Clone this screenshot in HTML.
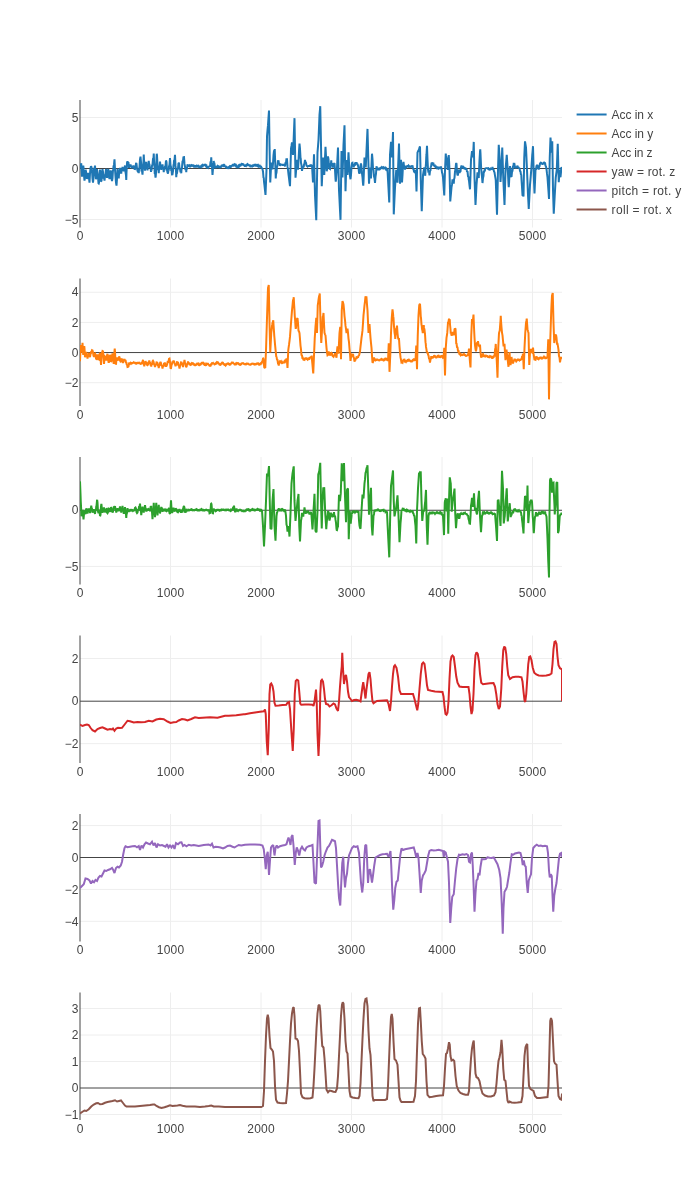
<!DOCTYPE html>
<html><head><meta charset="utf-8"><title>plot</title>
<style>
html,body{margin:0;padding:0;background:#fff;}
svg{display:block;will-change:transform;}
text{font-family:"Liberation Sans",sans-serif;font-size:12px;fill:#444;}
.g{stroke:#eee;stroke-width:1;fill:none;}
.z{stroke:#444;stroke-width:1;fill:none;}
.l{fill:none;stroke-width:2;stroke-miterlimit:2;}
</style></head><body>
<svg width="700" height="1200" viewBox="0 0 700 1200">
<rect width="700" height="1200" fill="#fff"/>

<g id="sp1">
<path class="g" d="M170.50,100.0V227.5"/>
<path class="g" d="M261.00,100.0V227.5"/>
<path class="g" d="M351.50,100.0V227.5"/>
<path class="g" d="M442.00,100.0V227.5"/>
<path class="g" d="M532.50,100.0V227.5"/>
<path class="g" d="M80.0,117.50H562.0"/>
<path class="g" d="M80.0,219.50H562.0"/>
<path class="z" d="M80.0,100.0V227.5"/>
<path class="z" d="M80.0,168.50H562.0"/>
<clipPath id="c1"><rect x="80.0" y="100.0" width="482.0" height="127.5"/></clipPath>
<g clip-path="url(#c1)"><path class="l" stroke="#1f77b4" d="M80.00,168.31L80.50,165.38L81.00,165.66L81.25,163.17L81.50,169.45L82.00,176.58L82.50,173.06L83.00,166.42L83.25,165.54L83.50,167.25L84.00,175.33L84.50,180.66L85.00,177.72L85.50,170.82L85.75,170.63L86.00,171.26L86.50,177.20L87.00,178.66L87.50,177.95L88.00,172.87L88.50,177.80L89.00,178.22L89.50,182.74L90.00,173.54L90.50,168.16L91.00,166.24L91.50,167.10L92.00,170.64L92.50,178.62L93.00,182.58L93.50,178.11L94.00,169.07L94.50,169.25L95.00,165.68L95.50,173.69L96.00,179.26L96.50,176.29L97.00,169.01L97.50,174.93L98.00,176.96L98.50,183.20L98.75,183.43L99.00,182.52L99.50,173.66L100.00,169.52L100.50,173.10L101.00,180.84L101.25,181.01L101.50,180.83L102.00,172.68L102.50,169.06L103.00,171.89L103.50,178.44L104.00,177.44L104.50,180.64L105.00,175.73L105.50,173.81L106.00,168.93L106.50,175.53L107.00,177.78L107.50,176.02L108.00,170.03L108.25,169.84L108.50,170.01L109.00,176.58L109.50,179.05L110.00,177.36L110.50,170.53L110.75,170.97L111.00,171.33L111.50,178.07L112.00,181.19L112.50,178.25L113.00,169.85L113.25,170.20L113.50,166.33L114.00,164.68L114.50,159.31L115.00,169.49L115.50,176.53L116.00,182.52L116.50,185.66L117.00,178.65L117.50,168.70L118.00,173.64L118.50,175.22L118.75,178.45L119.00,174.25L119.50,172.84L120.00,167.95L120.50,171.14L121.00,170.56L121.25,173.64L121.50,170.32L122.00,170.19L122.50,166.93L123.00,169.31L123.50,168.15L123.75,171.42L124.00,168.66L124.50,168.44L125.00,165.49L125.50,172.01L126.00,175.20L126.25,179.92L126.50,172.54L127.00,163.00L127.50,161.28L128.00,162.91L128.50,162.99L129.00,167.83L129.50,165.14L130.00,166.00L130.50,164.35L131.00,166.52L131.50,166.49L132.00,168.27L132.50,166.44L133.00,167.78L133.50,165.49L133.75,166.88L134.00,166.37L134.50,168.95L135.00,169.11L135.50,167.45L136.00,163.55L136.25,163.08L136.50,163.71L137.00,168.45L137.50,170.70L138.00,172.24L138.50,171.58L138.75,173.11L139.00,169.51L139.50,166.78L140.00,159.36L140.50,156.71L141.00,162.08L141.50,170.79L142.00,170.97L142.50,174.67L143.00,166.11L143.50,161.24L143.75,154.61L144.00,160.03L144.50,163.45L145.00,170.59L145.50,166.39L146.00,164.83L146.25,161.76L146.50,165.35L147.00,166.37L147.50,170.38L148.00,165.24L148.50,163.87L148.75,160.73L149.00,163.38L149.50,164.59L150.00,168.37L150.50,167.40L151.00,171.97L151.25,169.97L151.50,170.53L152.00,165.83L152.50,164.44L153.00,158.86L153.50,157.86L153.75,153.65L154.00,160.22L154.50,167.40L154.75,173.89L155.00,172.17L155.50,177.68L155.75,176.12L156.00,172.77L156.50,157.82L156.75,153.73L157.00,155.57L157.50,164.75L157.75,166.99L158.00,169.26L158.50,170.46L158.75,173.27L159.00,169.19L159.50,168.12L160.00,161.70L160.50,166.24L161.00,166.21L161.25,170.01L161.50,167.28L162.00,167.09L162.50,164.45L163.00,168.09L163.50,169.40L163.75,172.25L164.00,169.24L164.50,170.34L165.00,166.54L165.50,165.84L166.00,160.61L166.25,161.04L166.50,162.00L167.00,169.90L167.50,172.44L168.00,173.53L168.50,169.77L168.75,170.66L169.00,166.58L169.50,164.55L170.00,158.12L170.50,165.27L171.00,166.98L171.25,170.93L171.50,169.46L172.00,174.35L172.50,174.30L173.00,171.15L173.50,165.32L173.75,165.31L174.00,160.80L174.50,159.92L175.00,154.78L175.50,165.90L176.00,170.98L176.25,177.16L176.50,173.85L177.00,173.16L177.50,169.48L178.00,168.64L178.50,162.85L178.75,163.52L179.00,162.54L179.50,167.92L180.00,168.82L180.50,172.42L181.00,171.27L181.25,173.27L181.50,169.68L182.00,167.26L182.50,161.35L183.00,160.78L183.50,156.54L183.75,156.89L184.00,156.98L184.50,163.89L185.00,166.52L185.50,170.12L186.00,169.02L186.25,172.19L186.50,168.51L187.00,168.53L187.50,164.35L188.00,165.89L188.50,165.20L189.00,166.34L189.50,165.59L190.00,166.36L190.50,165.60L191.00,165.94L191.50,165.21L192.00,165.62L192.50,164.68L193.00,165.64L193.50,165.50L194.00,166.52L194.50,166.21L195.00,167.17L195.50,166.34L196.00,166.65L196.50,165.84L197.00,166.24L197.50,165.20L198.00,166.22L198.50,165.92L199.00,167.13L199.50,166.82L200.00,167.84L200.50,166.71L201.00,167.09L201.50,165.84L202.00,166.26L202.50,165.10L203.00,165.68L203.50,164.53L204.00,165.37L204.50,164.16L205.00,165.07L205.50,164.82L206.00,166.11L206.50,165.73L207.00,167.43L207.50,167.27L208.00,167.71L208.50,166.27L209.00,167.17L209.50,165.76L210.00,166.81L210.50,162.03L211.00,161.59L211.25,157.28L211.50,162.40L212.00,166.48L212.50,174.96L213.00,168.62L213.50,166.20L213.75,160.95L214.00,164.22L214.50,163.97L215.00,168.30L215.50,166.36L216.00,167.83L216.50,166.02L217.00,166.84L217.50,166.04L218.00,166.85L218.50,166.47L219.00,167.23L219.50,166.97L220.00,167.92L220.50,166.83L221.00,166.86L221.50,165.68L222.00,165.66L222.50,164.72L223.00,165.69L223.50,165.11L224.00,165.95L224.50,165.41L225.00,166.75L225.50,166.02L226.00,167.17L226.50,167.01L227.00,167.84L227.50,167.64L228.00,168.06L228.50,167.39L229.00,167.71L229.50,166.71L230.00,167.46L230.50,166.39L231.00,166.66L231.50,165.48L232.00,166.26L232.50,165.08L233.00,165.51L233.50,164.90L234.00,165.36L234.50,164.35L235.00,164.71L235.50,164.53L236.00,166.14L236.50,165.79L237.00,167.11L237.50,166.97L238.00,167.24L238.50,165.88L239.00,166.42L239.50,165.13L240.00,165.47L240.50,164.10L241.00,164.83L241.50,163.98L242.00,164.46L242.50,163.50L243.00,164.45L243.50,164.53L244.00,165.43L244.50,165.52L245.00,166.52L245.50,165.63L246.00,165.99L246.50,164.94L247.00,165.19L247.50,164.32L248.00,164.96L248.50,164.83L249.00,165.40L249.50,165.30L250.00,166.01L250.50,165.61L251.00,166.32L251.25,165.98L251.50,166.57L252.00,165.84L252.50,166.21L253.00,165.41L253.50,165.73L254.00,165.02L254.50,165.37L255.00,164.77L255.50,165.40L256.00,164.90L256.50,165.57L257.00,165.19L257.50,165.91L258.00,165.24L258.50,166.27L259.00,165.63L259.50,166.36L260.00,165.98L260.50,167.28L261.00,166.00L261.50,168.48L262.00,167.71L262.50,169.25L263.00,171.52L263.50,178.01L263.75,177.68L264.00,181.76L264.50,185.63L265.00,190.45L265.50,194.89L266.00,182.57L266.50,169.89L267.00,136.33L267.50,130.45L268.00,125.17L268.50,117.63L269.00,110.58L269.50,144.83L270.00,170.09L270.25,182.40L270.50,177.55L271.00,167.40L271.25,162.61L271.50,163.89L272.00,167.23L272.50,169.32L273.00,163.32L273.50,155.30L273.75,153.02L274.00,150.92L274.50,150.72L274.75,149.05L275.00,157.24L275.50,169.84L275.75,178.52L276.00,174.54L276.50,172.68L277.00,166.41L277.50,165.85L278.00,160.40L278.25,161.44L278.50,160.28L279.00,164.05L279.50,163.29L280.00,165.84L280.50,164.28L281.00,165.07L281.50,163.96L282.00,165.37L282.50,164.26L283.00,165.53L283.50,164.02L284.00,165.50L284.50,164.62L285.00,166.41L285.50,162.34L286.00,162.91L286.50,158.43L286.75,159.79L287.00,159.65L287.50,166.64L288.00,169.59L288.50,174.31L289.00,178.07L289.50,182.26L290.00,186.15L290.50,167.57L291.00,148.60L291.50,145.75L292.00,142.37L292.50,148.88L293.00,154.86L293.50,142.78L294.00,130.28L294.50,118.15L295.00,147.61L295.50,177.61L296.00,171.55L296.50,165.97L297.00,159.94L297.50,165.14L298.00,169.60L298.50,161.13L299.00,151.26L299.50,143.69L300.00,148.85L300.50,157.70L300.75,158.56L301.00,162.95L301.50,165.17L302.00,170.93L302.50,167.79L303.00,168.95L303.50,165.83L303.75,167.22L304.00,164.64L304.50,163.31L305.00,159.90L305.50,162.97L306.00,162.91L306.50,165.45L307.00,165.97L307.50,166.48L308.00,165.64L308.50,166.70L309.00,165.20L309.50,166.11L310.00,164.92L310.50,166.66L311.00,164.48L311.50,166.09L312.00,164.93L312.50,173.91L313.00,182.42L313.50,168.67L314.00,154.33L314.50,174.80L315.00,194.89L315.50,205.15L316.00,214.83L316.25,220.11L316.50,206.41L317.00,179.58L317.50,152.33L318.00,146.33L318.50,139.88L319.00,127.57L319.50,114.88L320.00,109.34L320.25,106.18L320.50,119.32L321.00,144.89L321.50,172.66L321.75,186.11L322.00,180.58L322.50,168.84L323.00,157.61L323.50,164.44L324.00,171.55L324.25,174.89L324.50,169.36L325.00,157.66L325.50,146.80L326.00,156.00L326.50,167.97L326.75,171.27L327.00,169.42L327.50,160.85L328.00,156.36L328.50,159.41L329.00,166.57L329.50,168.68L330.00,169.04L330.50,164.20L331.00,163.39L331.25,160.34L331.50,163.72L332.00,163.07L332.50,166.64L333.00,166.50L333.50,166.66L334.00,163.61L334.50,163.12L335.00,169.76L335.50,178.92L335.75,181.71L336.00,179.58L336.50,173.41L337.00,167.62L337.50,157.42L338.00,147.60L338.50,168.58L339.00,190.16L339.50,199.85L340.00,210.13L340.50,219.84L341.00,185.79L341.50,151.13L342.00,164.52L342.50,177.44L343.00,161.39L343.50,144.89L344.00,135.39L344.50,125.37L345.00,158.46L345.50,191.19L346.00,175.79L346.50,159.93L347.00,167.61L347.50,174.91L348.00,163.93L348.50,152.21L349.00,162.69L349.50,169.29L350.00,176.11L350.50,179.25L351.00,175.18L351.50,167.49L352.00,163.19L352.50,162.89L353.00,165.38L353.50,164.17L353.75,167.32L354.00,165.13L354.50,165.76L355.00,163.69L355.50,164.05L356.00,162.29L356.25,163.14L356.50,162.32L357.00,164.36L357.50,163.75L358.00,165.68L358.50,167.63L359.00,172.69L359.50,173.65L360.00,172.17L360.50,165.71L361.00,163.46L361.50,166.57L362.00,173.28L362.50,177.26L363.00,183.98L363.25,185.56L363.50,181.86L364.00,168.93L364.50,157.61L365.00,161.37L365.50,165.66L365.75,167.42L366.00,161.96L366.50,150.54L366.75,145.10L367.00,139.48L367.50,128.92L368.00,147.76L368.25,157.66L368.50,166.19L369.00,183.81L369.50,175.49L370.00,167.66L370.50,171.72L371.00,178.38L371.50,164.88L372.00,153.71L372.50,158.98L373.00,168.67L373.50,170.05L374.00,176.31L374.50,178.12L375.00,183.00L375.50,176.85L376.00,173.55L376.50,166.27L377.00,169.57L377.50,167.34L378.00,170.36L378.50,168.40L378.75,170.33L379.00,169.39L379.50,169.42L380.00,168.30L380.50,168.49L381.00,167.25L381.25,167.90L381.50,167.26L382.00,167.81L382.50,167.42L383.00,168.13L383.50,167.38L384.00,168.07L384.50,167.75L385.00,168.35L385.50,167.81L386.00,169.28L386.50,168.82L387.00,170.20L387.50,169.95L388.00,179.38L388.50,188.46L389.00,198.03L389.25,202.37L389.50,186.83L390.00,154.89L390.50,148.58L391.00,141.92L391.50,149.92L392.00,157.36L392.50,144.84L393.00,131.94L393.50,187.11L393.75,214.36L394.00,209.20L394.50,198.22L395.00,187.63L395.50,180.33L396.00,173.58L396.25,169.94L396.50,172.59L397.00,177.40L397.50,182.64L398.00,169.51L398.50,156.82L399.00,143.61L399.50,163.86L400.00,183.67L400.50,172.05L401.00,159.91L401.50,171.40L402.00,182.42L402.50,175.24L403.00,165.15L403.25,163.34L403.50,161.80L404.00,166.25L404.50,166.24L405.00,169.51L405.50,167.58L406.00,168.29L406.50,166.02L407.00,166.74L407.50,165.41L408.00,166.22L408.50,165.57L409.00,166.59L409.50,166.35L410.00,166.86L410.50,166.07L411.00,167.49L411.50,165.52L412.00,167.18L412.50,165.29L413.00,168.73L413.50,168.86L414.00,171.62L414.50,172.16L415.00,171.79L415.50,170.44L415.75,170.13L416.00,176.98L416.50,191.35L417.00,171.78L417.50,152.57L418.00,151.45L418.50,150.59L418.75,149.90L419.00,149.42L419.50,147.68L420.00,146.42L420.50,168.67L420.75,180.10L421.00,187.66L421.50,203.59L421.75,211.14L422.00,204.06L422.50,189.39L423.00,175.10L423.50,171.83L424.00,169.08L424.25,167.40L424.50,169.54L425.00,173.07L425.25,175.82L425.50,169.42L426.00,163.04L426.25,157.04L426.50,154.20L427.00,145.77L427.50,159.44L428.00,169.33L428.50,172.67L429.00,171.68L429.50,175.26L430.00,171.00L430.50,170.29L430.75,166.45L431.00,167.19L431.50,163.35L432.00,163.25L432.50,162.51L433.00,164.18L433.50,163.95L433.75,165.78L434.00,164.63L434.50,166.60L435.00,165.97L435.50,167.16L436.00,166.88L436.25,168.07L436.50,166.98L437.00,167.99L437.50,167.47L438.00,168.21L438.50,167.79L438.75,168.24L439.00,167.84L439.50,168.97L440.00,166.69L440.50,168.79L441.00,166.34L441.25,168.54L441.50,168.17L442.00,172.54L442.50,173.85L443.00,177.65L443.50,184.64L444.00,191.98L444.25,195.36L444.50,187.08L445.00,169.94L445.50,159.22L445.75,153.63L446.00,155.40L446.50,158.26L446.75,160.16L447.00,162.33L447.50,167.58L447.75,169.94L448.00,166.31L448.50,158.64L448.75,155.14L449.00,159.89L449.50,170.08L450.00,190.73L450.25,201.38L450.50,198.36L451.00,193.14L451.50,187.34L452.00,184.67L452.50,179.47L453.00,181.32L453.50,181.82L453.75,183.60L454.00,179.61L454.50,177.79L455.00,171.76L455.50,169.29L456.00,163.71L456.25,163.18L456.50,163.71L457.00,171.93L457.50,175.44L458.00,174.63L458.50,169.73L458.75,171.00L459.00,169.79L459.50,172.82L460.00,171.52L460.50,171.29L461.00,167.14L461.25,166.86L461.50,165.53L462.00,167.48L462.50,165.97L463.00,167.44L463.50,167.11L463.75,167.70L464.00,167.40L464.50,168.82L465.00,167.44L465.50,169.77L466.00,167.85L466.25,170.01L466.50,168.65L467.00,171.80L467.50,171.10L468.00,176.29L468.50,177.00L468.75,179.71L469.00,180.59L469.50,185.39L470.00,189.26L470.50,174.92L471.00,159.92L471.50,155.71L472.00,151.12L472.50,154.51L473.00,157.42L473.50,147.22L473.75,141.91L474.00,153.97L474.50,177.42L475.00,191.34L475.50,204.92L476.00,195.15L476.50,184.88L477.00,178.81L477.50,172.44L478.00,174.60L478.50,176.38L478.75,178.01L479.00,171.42L479.50,160.28L480.00,151.74L480.25,149.32L480.50,153.58L481.00,165.19L481.25,169.07L481.50,173.00L482.00,176.83L482.50,183.03L483.00,177.93L483.50,175.91L483.75,170.94L484.00,172.62L484.50,169.57L485.00,170.01L485.50,167.91L486.00,168.69L486.50,167.58L487.00,168.61L487.50,167.60L488.00,168.67L488.50,168.38L489.00,169.49L489.50,169.41L490.00,170.14L490.50,169.07L491.00,169.78L491.50,168.07L492.00,168.68L492.50,166.94L493.00,169.93L493.50,169.31L494.00,171.45L494.50,172.41L495.00,175.62L495.50,178.33L495.75,180.07L496.00,186.89L496.50,201.15L497.00,214.83L497.50,192.58L498.00,169.93L498.50,153.50L498.75,144.83L499.00,148.86L499.50,156.19L499.75,160.17L500.00,166.98L500.50,181.89L501.00,173.87L501.50,167.65L502.00,154.09L502.25,147.65L502.50,154.92L503.00,170.10L503.25,177.34L503.50,183.15L504.00,193.93L504.50,205.08L505.00,187.40L505.50,170.12L506.00,163.90L506.50,158.07L506.75,154.92L507.00,158.89L507.50,166.09L507.75,170.36L508.00,173.62L508.50,184.03L508.75,187.14L509.00,183.97L509.50,173.58L510.00,166.19L510.50,168.89L511.00,176.20L511.25,176.67L511.50,176.96L512.00,171.85L512.50,170.91L513.00,166.34L513.50,165.94L513.75,162.82L514.00,164.84L514.50,164.45L515.00,167.41L515.50,167.55L516.00,168.26L516.50,166.42L517.00,167.20L517.50,165.66L518.00,167.63L518.50,167.05L519.00,168.59L519.50,167.92L520.00,171.04L520.50,171.53L521.00,174.96L521.25,174.57L521.50,179.27L522.00,186.87L522.50,195.14L523.00,195.48L523.50,196.37L524.00,170.36L524.25,157.61L524.50,151.98L525.00,141.42L525.50,144.31L526.00,147.66L526.50,158.58L527.00,170.14L527.50,182.35L528.00,195.08L528.50,203.99L528.75,208.86L529.00,203.83L529.50,194.66L530.00,184.93L530.50,179.15L531.00,172.83L531.25,170.06L531.50,166.15L532.00,158.90L532.25,154.93L532.50,152.25L533.00,146.16L533.50,165.57L533.75,174.93L534.00,181.36L534.50,193.58L535.00,181.95L535.50,169.92L536.00,169.24L536.50,165.94L537.00,165.39L537.50,165.56L538.00,167.59L538.50,167.17L538.75,169.59L539.00,166.85L539.50,166.48L540.00,163.47L540.50,162.87L541.00,162.16L541.50,163.85L542.00,162.90L542.50,164.63L543.00,162.87L543.50,163.71L544.00,162.05L544.50,163.09L545.00,162.36L545.50,165.86L546.00,166.39L546.25,168.09L546.50,169.17L547.00,173.67L547.50,177.38L548.00,184.68L548.50,191.52L549.00,198.86L549.50,171.18L549.75,157.64L550.00,150.77L550.50,137.65L551.00,144.92L551.50,152.63L552.00,144.83L552.25,141.37L552.50,157.37L553.00,190.09L553.50,205.78L553.75,213.81L554.00,208.99L554.50,199.82L554.75,194.89L555.00,190.74L555.50,181.71L555.75,177.57L556.00,175.54L556.50,172.01L556.75,169.94L557.00,163.49L557.50,150.22L557.75,143.82L558.00,153.24L558.50,172.98L558.75,182.25L559.00,178.59L559.50,169.84L560.00,174.01L560.50,177.27L561.00,172.29L561.25,167.24L561.50,169.08L562.00,166.97"/></g>
<text x="80.00" y="240.30" text-anchor="middle">0</text>
<text x="170.50" y="240.30" text-anchor="middle" textLength="27.4">1000</text>
<text x="261.00" y="240.30" text-anchor="middle" textLength="27.4">2000</text>
<text x="351.50" y="240.30" text-anchor="middle" textLength="27.4">3000</text>
<text x="442.00" y="240.30" text-anchor="middle" textLength="27.4">4000</text>
<text x="532.50" y="240.30" text-anchor="middle" textLength="27.4">5000</text>
<text x="78.4" y="121.70" text-anchor="end">5</text>
<text x="78.4" y="172.70" text-anchor="end">0</text>
<text x="78.4" y="223.70" text-anchor="end">−5</text>
</g>
<g id="sp2">
<path class="g" d="M170.50,278.5V406.0"/>
<path class="g" d="M261.00,278.5V406.0"/>
<path class="g" d="M351.50,278.5V406.0"/>
<path class="g" d="M442.00,278.5V406.0"/>
<path class="g" d="M532.50,278.5V406.0"/>
<path class="g" d="M80.0,292.27H562.0"/>
<path class="g" d="M80.0,322.41H562.0"/>
<path class="g" d="M80.0,382.69H562.0"/>
<path class="z" d="M80.0,278.5V406.0"/>
<path class="z" d="M80.0,352.55H562.0"/>
<clipPath id="c2"><rect x="80.0" y="278.5" width="482.0" height="127.5"/></clipPath>
<g clip-path="url(#c2)"><path class="l" stroke="#ff7f0e" d="M80.00,361.15L80.50,349.17L80.75,345.18L81.00,346.01L81.50,351.64L81.75,352.32L82.00,350.25L82.50,342.70L83.00,351.87L83.25,354.82L83.50,353.39L84.00,347.59L84.25,346.20L84.50,348.22L85.00,357.20L85.50,354.75L86.00,354.56L86.25,351.94L86.50,354.77L87.00,355.37L87.50,358.62L88.00,355.76L88.50,354.66L88.75,352.63L89.00,354.04L89.50,354.92L90.00,357.19L90.50,354.01L91.00,353.08L91.25,351.21L91.50,351.97L92.00,350.27L92.50,350.52L93.00,352.38L93.50,355.72L93.75,356.34L94.00,356.72L94.50,353.94L95.00,353.48L95.50,354.79L96.00,358.51L96.25,358.83L96.50,358.95L97.00,355.54L97.50,354.67L98.00,355.98L98.50,359.98L98.75,359.50L99.00,359.64L99.50,354.70L100.00,352.86L100.50,357.57L101.00,364.92L101.50,357.44L102.00,352.96L102.50,351.03L103.00,351.37L103.50,356.14L104.00,363.94L104.50,358.50L105.00,356.48L105.50,356.93L106.00,360.36L106.25,359.78L106.50,359.71L107.00,355.38L107.50,353.89L108.00,356.24L108.50,362.03L108.75,362.73L109.00,361.99L109.50,357.16L110.00,355.00L110.50,356.22L111.00,361.16L111.25,361.23L111.50,360.59L112.00,355.57L112.50,353.38L113.00,356.73L113.50,362.51L113.75,363.78L114.00,360.61L114.50,351.03L114.75,348.48L115.00,351.79L115.50,361.83L115.75,364.38L116.00,364.06L116.50,359.12L116.75,358.84L117.00,357.37L117.50,360.58L118.00,359.68L118.50,359.45L119.00,357.13L119.25,357.10L119.50,357.17L120.00,360.46L120.50,361.45L121.00,361.06L121.50,359.41L121.75,359.59L122.00,359.53L122.50,362.02L123.00,362.75L123.50,361.69L124.00,359.63L124.25,359.60L124.50,359.06L125.00,360.84L125.50,359.82L126.00,362.58L126.50,362.86L126.75,364.92L127.00,364.61L127.50,367.01L128.00,366.84L128.50,366.42L129.00,363.39L129.25,363.36L129.50,362.70L130.00,363.42L130.50,362.84L131.00,363.65L131.25,363.28L131.50,363.51L132.00,363.09L132.50,363.14L133.00,362.71L133.50,362.68L133.75,362.40L134.00,362.70L134.50,362.66L135.00,363.08L135.50,362.97L136.00,363.59L136.25,363.40L136.50,363.52L137.00,363.02L137.50,363.19L138.00,362.67L138.50,362.90L138.75,362.17L139.00,362.88L139.50,362.69L140.00,363.56L140.50,363.53L141.00,364.44L141.25,363.92L141.50,364.31L142.00,362.37L142.50,361.78L143.00,359.85L143.50,363.15L144.00,364.63L144.25,366.46L144.50,364.94L145.00,363.90L145.50,361.09L146.00,363.30L146.50,363.13L147.00,364.87L147.50,365.15L148.00,364.48L148.50,362.40L149.00,362.07L149.25,360.43L149.50,361.98L150.00,362.57L150.50,364.71L151.00,364.65L151.25,366.65L151.50,364.58L152.00,364.28L152.50,361.47L153.00,360.83L153.50,361.58L154.00,364.03L154.50,364.95L155.00,367.00L155.50,365.11L156.00,364.63L156.50,362.38L157.00,362.51L157.50,362.97L158.00,365.70L158.50,365.95L158.75,368.21L159.00,366.27L159.50,365.37L160.00,363.06L160.50,362.07L161.00,362.99L161.50,365.41L162.00,365.76L162.50,368.65L163.00,366.29L163.50,366.05L164.00,363.62L164.50,363.26L165.00,363.30L165.50,365.40L166.00,364.95L166.25,366.80L166.50,364.85L167.00,364.77L167.50,362.46L168.00,362.84L168.25,360.86L168.50,362.02L169.00,358.90L169.50,358.60L170.00,361.50L170.50,367.84L170.75,368.81L171.00,368.40L171.50,365.08L172.00,363.97L172.50,361.53L173.00,362.21L173.50,360.52L173.75,361.86L174.00,361.05L174.50,363.49L175.00,364.14L175.50,366.31L176.00,364.69L176.50,364.64L177.00,362.22L177.50,362.28L178.00,362.62L178.50,365.32L179.00,365.77L179.50,368.64L180.00,365.89L180.50,364.78L181.00,362.23L181.25,362.13L181.50,361.88L182.00,364.29L182.50,364.83L183.00,367.07L183.50,363.93L184.00,363.01L184.50,360.01L185.00,363.06L185.50,363.77L186.00,366.97L186.25,366.76L186.50,367.19L187.00,364.51L187.50,363.92L188.00,361.50L188.50,362.98L189.00,363.08L189.50,364.40L190.00,364.41L190.50,364.82L191.00,363.87L191.50,364.22L192.00,363.04L192.50,363.22L193.00,363.23L193.50,364.28L194.00,364.15L194.50,365.15L195.00,365.22L195.50,365.29L196.00,364.50L196.50,364.64L197.00,363.63L197.50,363.75L198.00,363.42L198.50,364.53L199.00,364.12L199.50,365.03L200.00,364.73L200.50,364.77L201.00,363.68L201.50,363.75L202.00,362.73L202.50,362.76L203.00,362.61L203.50,363.82L204.00,363.63L204.50,364.89L205.00,364.80L205.50,365.05L206.00,363.92L206.50,364.55L207.00,363.60L207.50,363.66L208.00,363.72L208.50,364.66L209.00,364.79L209.50,365.66L210.00,365.65L210.50,365.79L211.00,364.38L211.50,364.39L212.00,363.24L212.50,363.35L213.00,363.03L213.50,364.00L214.00,363.22L214.50,364.25L215.00,363.88L215.50,364.06L216.00,363.06L216.50,363.35L217.00,362.05L217.50,362.19L218.00,362.33L218.50,363.50L219.00,363.56L219.50,364.60L220.00,364.76L220.50,364.90L221.00,363.84L221.50,363.84L222.00,362.70L222.50,362.64L223.00,362.86L223.50,364.04L224.00,364.00L224.50,365.06L225.00,365.05L225.50,365.49L226.00,364.25L226.50,364.47L227.00,363.68L227.50,363.62L228.00,363.32L228.50,364.12L229.00,363.92L229.50,364.57L230.00,364.16L230.50,364.41L231.00,363.53L231.50,363.45L232.00,362.56L232.50,362.75L233.00,362.62L233.50,363.43L234.00,363.58L234.50,364.38L235.00,364.29L235.50,364.34L236.00,363.51L236.50,363.90L237.00,362.95L237.50,363.13L238.00,363.08L238.50,363.92L239.00,363.88L239.50,364.82L240.00,364.81L240.50,364.85L241.00,363.86L241.50,363.98L242.00,363.26L242.50,363.24L243.00,363.13L243.50,363.74L244.00,363.75L244.50,364.32L245.00,364.36L245.50,364.47L246.00,363.93L246.50,364.18L247.00,363.53L247.50,363.68L248.00,363.63L248.50,364.15L249.00,364.16L249.50,364.63L250.00,364.66L250.50,364.73L251.00,364.06L251.50,364.12L252.00,363.57L252.50,363.77L253.00,363.59L253.50,364.15L254.00,363.93L254.50,364.48L255.00,364.27L255.50,364.45L256.00,363.93L256.50,364.10L257.00,363.45L257.50,363.64L258.00,363.38L258.50,364.19L259.00,363.83L259.50,364.51L260.00,364.09L260.50,364.25L261.00,363.21L261.50,363.33L262.00,361.72L262.50,361.17L263.00,358.50L263.25,358.44L263.50,359.28L264.00,365.26L264.25,367.38L264.50,367.70L265.00,367.80L265.25,368.08L265.50,362.07L266.00,350.56L266.50,334.16L267.00,318.07L267.50,302.85L268.00,288.15L268.50,285.90L268.75,285.07L269.00,297.52L269.50,323.08L270.00,342.58L270.25,352.55L270.50,347.54L271.00,337.97L271.25,332.90L271.50,330.88L272.00,325.88L272.25,324.51L272.50,322.90L273.00,321.75L273.25,320.20L273.50,324.42L274.00,331.58L274.25,335.58L274.50,338.24L275.00,344.04L275.25,346.65L275.50,349.37L276.00,354.14L276.25,356.87L276.50,356.58L277.00,359.57L277.50,359.84L278.00,363.53L278.50,363.75L278.75,365.70L279.00,363.55L279.50,362.89L280.00,360.48L280.50,361.92L281.00,361.35L281.50,362.57L282.00,361.99L282.50,362.80L283.00,362.51L283.50,363.27L283.75,362.54L284.00,363.10L284.50,361.47L285.00,361.83L285.50,359.37L286.00,360.95L286.50,358.56L286.75,359.80L287.00,361.62L287.50,367.87L288.00,356.08L288.25,350.56L288.50,348.49L289.00,344.98L289.25,342.89L289.50,341.03L290.00,336.63L290.50,329.97L291.00,322.95L291.50,316.88L292.00,310.38L292.50,305.65L293.00,300.34L293.50,299.16L293.75,297.20L294.00,302.71L294.50,310.59L294.75,315.81L295.00,318.51L295.50,326.45L295.75,328.90L296.00,327.70L296.50,322.11L296.75,320.88L297.00,318.80L297.50,318.12L298.00,323.16L298.50,330.90L299.00,331.40L299.50,333.11L300.00,339.20L300.50,345.56L301.00,349.40L301.50,355.07L302.00,355.55L302.50,358.78L303.00,358.31L303.50,359.73L304.00,359.66L304.50,359.87L305.00,358.39L305.50,358.28L306.00,358.13L306.50,358.86L307.00,358.71L307.50,359.47L308.00,358.84L308.50,359.13L309.00,358.32L309.50,358.65L310.00,357.14L310.50,358.02L311.00,356.53L311.50,358.01L311.75,355.54L312.00,360.03L312.50,365.21L313.00,370.90L313.25,373.36L313.50,367.57L314.00,355.39L314.50,343.89L314.75,337.90L315.00,334.40L315.50,326.69L316.00,321.05L316.25,317.90L316.50,323.14L317.00,332.88L317.50,314.74L317.75,305.31L318.00,303.76L318.50,299.83L318.75,298.05L319.00,296.78L319.50,294.72L319.75,293.42L320.00,303.39L320.50,322.92L321.00,336.41L321.25,342.87L321.50,338.88L322.00,330.38L322.50,321.47L322.75,316.37L323.00,316.62L323.50,312.96L324.00,323.88L324.50,332.92L325.00,334.33L325.50,335.41L326.00,341.90L326.50,347.89L327.00,352.68L327.50,355.27L328.00,354.92L328.50,352.18L328.75,352.07L329.00,351.74L329.50,354.45L330.00,354.90L330.50,354.80L331.00,353.19L331.50,352.92L332.00,353.64L332.50,355.65L333.00,356.20L333.50,356.65L334.00,355.01L334.50,355.65L335.00,353.27L335.50,356.08L336.00,355.21L336.50,357.72L337.00,350.72L337.50,346.29L338.00,348.65L338.50,353.68L339.00,342.89L339.50,333.08L340.00,328.78L340.25,326.89L340.50,337.52L341.00,359.34L341.50,326.67L341.75,310.58L342.00,307.21L342.50,301.15L343.00,302.55L343.50,304.36L344.00,309.44L344.50,316.09L345.00,320.01L345.50,325.69L346.00,328.95L346.50,333.07L347.00,329.98L347.50,328.60L348.00,332.96L348.50,338.59L349.00,342.15L349.50,348.53L350.00,353.91L350.50,360.87L351.00,357.55L351.50,356.16L352.00,354.68L352.50,355.19L353.00,353.88L353.50,357.04L354.00,358.04L354.50,361.63L355.00,359.69L355.50,359.74L356.00,357.92L356.25,358.43L356.50,357.41L357.00,357.73L357.50,356.53L358.00,357.88L358.50,355.43L359.00,355.90L359.50,353.44L360.00,351.49L360.50,346.68L361.00,342.45L361.50,337.93L362.00,334.34L362.50,330.41L363.00,323.15L363.50,315.37L364.00,310.64L364.50,305.45L365.00,301.36L365.50,296.33L366.00,297.86L366.50,297.67L367.00,304.62L367.50,310.45L368.00,321.84L368.50,332.86L369.00,328.76L369.50,324.12L370.00,331.27L370.50,337.93L371.00,343.11L371.50,347.88L372.00,355.69L372.50,362.78L373.00,362.13L373.50,358.05L373.75,358.89L374.00,357.51L374.50,360.23L375.00,360.07L375.50,360.39L376.00,359.53L376.50,359.75L377.00,358.87L377.50,359.78L378.00,359.73L378.50,360.30L379.00,360.37L379.50,360.43L380.00,359.72L380.50,359.77L381.00,359.29L381.25,359.44L381.50,359.12L382.00,359.68L382.50,359.46L383.00,360.03L383.50,359.83L383.75,360.16L384.00,359.66L384.50,359.90L385.00,358.98L385.50,359.28L386.00,357.87L386.25,359.07L386.50,358.20L387.00,360.37L387.50,359.10L388.00,361.04L388.50,348.74L388.75,343.18L389.00,352.47L389.50,371.84L390.00,360.84L390.25,355.62L390.50,347.86L391.00,333.07L391.50,322.95L391.75,318.08L392.00,314.99L392.50,309.37L393.00,313.35L393.25,316.39L393.50,318.09L394.00,326.49L394.25,328.79L394.50,332.46L395.00,335.27L395.25,338.91L395.50,335.24L396.00,331.99L396.25,328.24L396.50,328.97L397.00,325.65L397.50,333.11L398.00,337.69L398.50,338.96L399.00,338.97L399.50,346.49L400.00,352.54L400.50,357.22L401.00,359.83L401.50,362.54L402.00,362.32L402.50,362.69L403.00,360.73L403.50,360.05L403.75,358.92L404.00,360.13L404.50,359.80L405.00,361.50L405.50,361.18L406.00,361.87L406.50,361.00L407.00,361.12L407.50,360.28L408.00,360.68L408.50,360.03L408.75,360.26L409.00,359.99L409.50,360.75L410.00,360.66L410.50,361.40L411.00,361.45L411.25,361.95L411.50,361.28L412.00,361.40L412.50,360.34L413.00,360.40L413.50,358.96L413.75,359.92L414.00,358.37L414.50,360.85L415.00,359.70L415.50,360.74L416.00,350.41L416.25,345.58L416.50,353.28L417.00,369.32L417.50,346.67L417.75,335.64L418.00,328.79L418.50,315.59L419.00,308.37L419.25,305.13L419.50,304.45L420.00,303.78L420.50,311.21L420.75,316.45L421.00,317.83L421.50,324.76L421.75,325.82L422.00,328.85L422.50,330.95L422.75,333.15L423.00,330.36L423.50,327.88L423.75,325.08L424.00,327.66L424.50,329.62L424.75,332.08L425.00,333.97L425.50,342.16L425.75,343.64L426.00,346.91L426.50,349.61L426.75,352.13L427.00,351.45L427.50,353.63L427.75,352.06L428.00,354.70L428.50,355.41L429.00,358.59L429.50,359.25L430.00,362.61L430.50,359.36L431.00,358.53L431.25,356.15L431.50,357.64L432.00,356.89L432.50,358.53L433.00,356.99L433.50,356.96L434.00,355.90L434.50,355.85L435.00,356.07L435.50,357.11L436.00,357.31L436.25,358.19L436.50,357.50L437.00,357.06L437.50,355.93L438.00,355.72L438.50,355.60L439.00,356.87L439.50,356.60L440.00,357.70L440.50,356.85L441.00,356.65L441.50,355.37L442.00,356.28L442.50,355.66L443.00,357.67L443.50,357.35L444.00,351.63L444.25,347.69L444.50,357.29L445.00,375.37L445.50,357.28L445.75,347.94L446.00,344.80L446.50,337.92L447.00,334.77L447.25,332.92L447.50,329.79L448.00,322.54L448.50,321.62L449.00,318.66L449.50,320.58L449.75,319.39L450.00,324.48L450.50,329.23L450.75,333.70L451.00,332.42L451.50,335.67L451.75,334.94L452.00,335.59L452.50,331.79L452.75,332.92L453.00,332.40L453.50,335.30L453.75,334.48L454.00,334.97L454.50,329.64L454.75,329.66L455.00,328.37L455.50,328.96L456.00,337.64L456.25,344.18L456.50,343.15L457.00,347.10L457.50,347.35L458.00,350.83L458.50,350.94L458.75,353.02L459.00,351.94L459.50,354.58L460.00,353.96L460.50,355.00L461.00,354.33L461.50,355.00L462.00,354.72L462.50,354.95L463.00,354.48L463.50,354.60L464.00,354.01L464.50,354.94L465.00,354.98L465.50,355.67L466.00,355.59L466.50,356.34L467.00,355.08L467.50,355.76L468.00,354.45L468.50,352.86L469.00,348.67L469.50,355.97L469.75,359.19L470.00,362.09L470.50,367.40L471.00,346.28L471.25,335.45L471.50,330.15L472.00,319.13L472.50,321.00L472.75,321.68L473.00,319.58L473.50,314.54L474.00,327.25L474.25,332.67L474.50,337.43L475.00,345.22L475.50,349.06L476.00,351.27L476.50,348.07L477.00,342.45L477.50,343.16L478.00,341.21L478.50,344.62L479.00,345.62L479.50,346.85L480.00,344.44L480.50,352.46L481.00,356.89L481.50,357.43L482.00,355.05L482.50,354.59L483.00,354.12L483.50,355.89L484.00,355.63L484.50,356.94L485.00,356.09L485.50,356.39L486.00,355.50L486.50,355.69L487.00,355.82L487.50,356.74L488.00,356.66L488.50,357.65L489.00,356.86L489.50,357.10L490.00,355.98L490.50,356.18L491.00,356.34L491.50,357.39L492.00,357.10L492.50,358.73L493.00,356.99L493.50,357.83L494.00,355.43L494.50,356.63L495.00,350.44L495.50,347.17L495.75,343.93L496.00,348.96L496.50,356.37L496.75,360.59L497.00,366.03L497.50,377.63L498.00,357.77L498.25,348.07L498.50,342.91L499.00,333.10L499.50,331.25L499.75,330.56L500.00,326.99L500.50,320.92L500.75,315.91L501.00,320.80L501.50,327.28L502.00,332.61L502.50,335.45L503.00,340.63L503.50,345.44L504.00,345.47L504.50,343.69L505.00,353.25L505.50,360.06L506.00,356.23L506.50,349.64L507.00,354.36L507.50,355.82L508.00,362.88L508.50,366.76L509.00,360.64L509.50,352.10L510.00,360.00L510.50,364.96L511.00,362.72L511.50,357.01L512.00,360.35L512.50,360.87L513.00,363.52L513.50,361.44L514.00,360.75L514.50,358.87L515.00,359.98L515.50,359.93L516.00,361.09L516.25,360.83L516.50,361.14L517.00,360.13L517.50,360.02L518.00,358.87L518.50,359.86L519.00,359.72L519.50,360.48L520.00,360.07L520.50,360.58L521.00,358.78L521.50,359.69L522.00,356.76L522.50,356.55L523.00,353.79L523.50,364.32L523.75,369.10L524.00,362.26L524.50,347.85L525.00,338.14L525.25,332.94L525.50,329.79L526.00,322.86L526.50,320.22L526.75,318.67L527.00,322.37L527.50,329.19L528.00,331.26L528.50,332.93L529.00,354.46L529.25,364.94L529.50,361.10L530.00,352.46L530.50,351.38L531.00,348.84L531.50,351.93L532.00,352.36L532.50,350.86L533.00,347.53L533.50,353.45L534.00,356.95L534.50,360.10L535.00,359.48L535.50,359.71L536.00,357.07L536.50,356.95L537.00,357.23L537.50,358.81L538.00,358.96L538.50,359.29L539.00,358.09L539.50,358.23L540.00,357.13L540.50,357.89L541.00,357.62L541.50,358.53L542.00,358.28L542.50,358.39L543.00,357.60L543.50,357.68L544.00,356.76L544.50,357.56L545.00,357.47L545.50,358.89L546.00,357.97L546.50,358.04L547.00,357.28L547.50,356.88L548.00,345.01L548.25,339.36L548.50,359.10L549.00,399.36L549.50,369.97L549.75,355.58L550.00,347.95L550.50,333.05L551.00,317.94L551.25,310.61L551.50,305.41L552.00,295.60L552.50,293.69L552.75,293.06L553.00,302.93L553.50,323.11L554.00,336.29L554.25,343.05L554.50,340.83L555.00,336.81L555.50,335.42L556.00,334.62L556.50,337.74L557.00,343.78L557.50,343.76L558.00,346.31L558.50,349.81L559.00,355.93L559.50,357.43L560.00,362.34L560.50,359.38L561.00,358.44L561.50,357.20L562.00,358.16"/></g>
<text x="80.00" y="418.80" text-anchor="middle">0</text>
<text x="170.50" y="418.80" text-anchor="middle" textLength="27.4">1000</text>
<text x="261.00" y="418.80" text-anchor="middle" textLength="27.4">2000</text>
<text x="351.50" y="418.80" text-anchor="middle" textLength="27.4">3000</text>
<text x="442.00" y="418.80" text-anchor="middle" textLength="27.4">4000</text>
<text x="532.50" y="418.80" text-anchor="middle" textLength="27.4">5000</text>
<text x="78.4" y="296.47" text-anchor="end">4</text>
<text x="78.4" y="326.61" text-anchor="end">2</text>
<text x="78.4" y="356.75" text-anchor="end">0</text>
<text x="78.4" y="386.89" text-anchor="end">−2</text>
</g>
<g id="sp3">
<path class="g" d="M170.50,457.0V584.5"/>
<path class="g" d="M261.00,457.0V584.5"/>
<path class="g" d="M351.50,457.0V584.5"/>
<path class="g" d="M442.00,457.0V584.5"/>
<path class="g" d="M532.50,457.0V584.5"/>
<path class="g" d="M80.0,566.40H562.0"/>
<path class="z" d="M80.0,457.0V584.5"/>
<path class="z" d="M80.0,510.25H562.0"/>
<clipPath id="c3"><rect x="80.0" y="457.0" width="482.0" height="127.5"/></clipPath>
<g clip-path="url(#c3)"><path class="l" stroke="#2ca02c" d="M80.00,481.40L80.50,494.16L80.75,501.31L81.00,505.85L81.50,516.28L82.00,512.64L82.50,509.89L83.00,513.37L83.50,519.50L84.00,514.24L84.50,511.44L85.00,511.79L85.50,514.26L86.00,509.64L86.50,508.49L87.00,510.13L87.50,513.60L88.00,510.43L88.50,510.51L88.75,508.45L89.00,510.59L89.50,510.63L90.00,513.11L90.50,509.27L91.00,507.61L91.25,505.66L91.50,507.71L92.00,508.88L92.50,512.68L93.00,510.54L93.50,511.00L93.75,509.19L94.00,511.19L94.50,511.51L95.00,513.98L95.50,510.37L96.00,509.60L96.25,506.40L96.50,506.11L97.00,500.62L97.25,500.68L97.50,502.42L98.00,511.36L98.25,512.31L98.50,513.27L99.00,509.63L99.25,510.76L99.50,510.06L100.00,516.04L100.25,515.74L100.50,514.71L101.00,506.61L101.25,504.80L101.50,504.78L102.00,510.25L102.50,512.63L103.00,511.44L103.50,507.61L103.75,508.22L104.00,507.43L104.50,511.35L105.00,511.76L105.50,511.49L106.00,508.58L106.25,509.16L106.50,509.02L107.00,512.63L107.50,513.17L108.00,512.19L108.50,508.48L108.75,508.32L109.00,508.11L109.50,511.25L110.00,511.32L110.50,511.07L111.00,507.83L111.25,507.73L111.50,507.76L112.00,510.99L112.50,512.43L113.00,511.58L113.50,509.05L113.75,508.81L114.00,507.34L114.50,507.66L115.00,506.07L115.50,509.32L116.00,510.34L116.25,512.55L116.50,511.08L117.00,510.87L117.50,508.23L118.00,510.53L118.50,509.91L118.75,511.38L119.00,509.80L119.50,509.21L120.00,506.48L120.50,510.18L121.00,510.86L121.25,512.66L121.50,510.66L122.00,509.24L122.50,505.89L123.00,510.19L123.50,511.49L123.75,513.88L124.00,511.66L124.50,510.90L125.00,507.13L125.50,512.91L126.00,514.50L126.25,518.01L126.50,514.66L127.00,512.89L127.50,508.11L128.00,510.56L128.50,509.56L128.75,512.01L129.00,509.95L129.50,511.34L130.00,510.22L130.50,510.48L131.00,509.89L131.25,510.10L131.50,510.00L132.00,510.58L132.50,510.24L133.00,511.04L133.50,510.60L133.75,511.27L134.00,510.10L134.50,509.72L135.00,507.83L135.50,507.53L136.00,508.52L136.50,512.22L137.00,513.05L137.50,512.53L138.00,509.85L138.50,509.67L139.00,507.12L139.50,507.24L140.00,503.56L140.50,509.50L141.00,511.98L141.25,515.18L141.50,512.80L142.00,510.90L142.50,506.67L143.00,510.31L143.50,510.78L143.75,512.61L144.00,509.79L144.50,508.97L145.00,505.12L145.50,508.34L146.00,509.60L146.25,511.63L146.50,509.68L147.00,510.65L147.50,508.36L148.00,509.69L148.50,509.21L149.00,510.20L149.50,509.11L150.00,511.37L150.50,507.70L151.00,508.06L151.25,505.85L151.50,510.04L152.00,511.99L152.50,519.28L153.00,511.15L153.50,508.06L153.75,502.82L154.00,507.16L154.50,510.54L155.00,517.29L155.50,510.84L156.00,506.54L156.25,502.82L156.50,506.26L157.00,508.72L157.50,515.34L158.00,509.95L158.50,508.78L158.75,504.78L159.00,508.60L159.50,509.51L160.00,513.48L160.50,510.22L161.00,508.82L161.25,506.83L161.50,508.71L162.00,508.61L162.50,511.75L163.00,510.22L163.50,510.97L164.00,509.71L164.50,510.22L165.00,509.51L165.50,510.39L166.00,509.90L166.50,510.84L167.00,510.22L167.50,511.36L168.00,509.16L168.50,510.40L169.00,507.81L169.50,513.23L170.00,513.95L170.50,509.05L171.00,500.42L171.50,508.74L172.00,512.92L172.50,511.84L173.00,508.54L173.25,509.22L173.50,507.57L174.00,510.63L174.50,510.78L175.00,511.30L175.50,508.98L176.00,508.87L176.50,509.28L177.00,511.25L177.50,512.06L178.00,512.24L178.50,510.53L179.00,510.79L179.50,509.15L180.00,510.75L180.50,510.74L181.00,512.71L181.25,511.83L181.50,512.40L182.00,510.90L182.50,511.23L182.75,509.84L183.00,509.95L183.50,506.94L184.00,505.87L184.50,508.00L185.00,512.76L185.50,510.84L186.00,511.25L186.50,508.88L187.00,510.47L187.50,509.60L188.00,510.58L188.50,510.07L188.75,510.69L189.00,510.31L189.50,510.37L190.00,509.88L190.50,509.89L191.00,509.35L191.25,509.62L191.50,509.42L192.00,510.03L192.50,509.80L193.00,510.35L193.50,510.21L193.75,510.70L194.00,510.16L194.50,510.31L195.00,509.80L195.50,509.94L196.00,509.46L196.25,509.74L196.50,509.41L197.00,510.00L197.50,509.76L198.00,510.47L198.50,510.23L198.75,510.71L199.00,510.21L199.50,510.39L200.00,509.78L200.50,509.98L201.00,509.41L201.25,509.68L201.50,509.33L202.00,510.03L202.50,509.74L203.00,510.47L203.50,510.26L203.75,510.70L204.00,510.15L204.50,510.53L205.00,510.01L205.50,510.09L206.00,509.67L206.25,509.84L206.50,509.71L207.00,510.19L207.50,509.64L208.00,511.32L208.50,509.28L208.75,511.00L209.00,510.11L209.50,513.27L210.00,512.99L210.50,510.46L211.00,503.86L211.25,503.57L211.50,503.98L212.00,510.33L212.50,513.19L213.00,513.26L213.50,508.88L213.75,509.52L214.00,508.64L214.50,511.04L215.00,510.59L215.50,511.08L216.00,510.28L216.50,510.59L217.00,509.87L217.50,509.97L218.00,509.69L218.50,510.16L219.00,510.01L219.50,510.61L220.00,510.31L220.50,510.40L221.00,509.82L221.50,510.14L222.00,509.42L222.50,509.61L223.00,509.51L223.50,509.89L224.00,509.71L224.50,510.24L225.00,510.15L225.50,510.27L226.00,509.68L226.50,510.05L227.00,509.51L227.50,509.62L228.00,509.43L228.50,510.10L229.00,509.87L229.50,510.40L230.00,510.40L230.50,510.81L231.00,509.71L231.50,510.13L232.00,508.90L232.50,510.12L233.00,507.78L233.50,507.80L234.00,505.75L234.50,509.67L235.00,511.49L235.50,511.47L236.00,509.20L236.25,509.58L236.50,508.60L237.00,510.61L237.50,510.78L238.00,511.13L238.50,510.31L239.00,510.41L239.50,509.83L240.00,509.86L240.50,509.86L241.00,510.42L241.50,510.34L242.00,511.02L242.50,510.84L243.00,511.27L243.50,510.82L244.00,511.23L244.50,510.87L245.00,511.20L245.50,510.47L246.00,510.54L246.50,509.51L247.00,509.58L247.50,508.74L248.00,509.70L248.50,509.44L249.00,510.26L249.50,509.95L250.00,510.73L250.50,509.99L251.00,510.30L251.50,509.67L252.00,509.98L252.50,509.22L253.00,509.82L253.50,509.52L254.00,510.20L254.50,509.86L255.00,510.42L255.50,509.89L256.00,509.95L256.50,509.54L257.00,509.55L257.50,509.02L258.00,509.55L258.50,509.42L259.00,509.81L259.50,509.57L260.00,511.38L260.50,508.96L261.00,510.50L261.50,510.14L262.00,510.76L262.50,517.88L263.00,526.06L263.50,536.16L264.00,546.57L264.50,536.10L265.00,526.15L265.50,513.40L266.00,501.07L266.50,487.10L267.00,473.58L267.50,474.67L268.00,476.05L268.50,470.91L269.00,466.09L269.50,489.24L269.75,501.07L270.00,510.24L270.50,529.05L271.00,528.68L271.50,528.55L272.00,514.66L272.50,501.05L273.00,494.95L273.50,489.08L274.00,507.43L274.50,526.11L275.00,533.15L275.50,540.62L276.00,528.14L276.50,516.12L277.00,512.54L277.50,511.60L278.00,509.45L278.50,510.03L278.75,508.09L279.00,509.81L279.50,509.25L280.00,511.16L280.50,510.08L281.00,510.44L281.50,509.15L282.00,509.39L282.50,509.07L283.00,510.02L283.50,509.32L283.75,511.44L284.00,509.29L284.50,512.04L285.00,509.51L285.50,512.09L286.00,515.82L286.50,524.61L287.00,526.13L287.50,531.66L288.00,528.04L288.50,526.06L289.00,531.17L289.50,536.56L290.00,524.87L290.50,513.60L291.00,498.39L291.50,483.61L292.00,478.38L292.50,473.60L293.00,470.65L293.50,468.03L293.75,466.38L294.00,478.10L294.50,500.90L295.00,511.11L295.50,520.95L296.00,516.12L296.50,510.93L297.00,506.37L297.50,500.93L298.00,497.62L298.50,493.93L299.00,515.46L299.25,525.85L299.50,531.26L300.00,541.41L300.50,531.35L301.00,520.88L301.50,518.01L302.00,512.83L302.50,515.18L303.00,515.18L303.25,516.56L303.50,513.74L304.00,512.33L304.50,507.46L305.00,510.93L305.50,512.08L305.75,513.86L306.00,512.63L306.50,513.23L307.00,511.08L307.50,511.63L308.00,511.38L308.50,512.57L309.00,512.58L309.50,514.47L310.00,512.55L310.50,514.22L311.00,511.75L311.25,513.77L311.50,515.10L312.00,522.96L312.50,529.42L313.00,520.85L313.50,510.62L314.00,502.74L314.50,493.81L315.00,512.67L315.50,530.86L316.00,531.69L316.50,532.14L317.00,521.68L317.50,510.90L318.00,486.98L318.25,474.69L318.50,473.94L319.00,471.84L319.25,471.14L319.50,468.88L320.00,465.07L320.25,462.86L320.50,475.76L321.00,500.95L321.50,519.38L321.75,528.40L322.00,519.43L322.50,500.92L323.00,492.73L323.25,488.42L323.50,488.45L324.00,487.99L324.25,488.05L324.50,494.25L325.00,507.26L325.25,513.44L325.50,517.52L326.00,525.01L326.25,529.14L326.50,525.67L327.00,519.33L327.25,515.91L327.50,516.28L328.00,511.16L328.25,511.85L328.50,512.08L329.00,517.76L329.50,520.60L330.00,518.45L330.50,513.94L330.75,514.10L331.00,512.78L331.50,515.36L332.00,515.16L332.50,517.16L333.00,515.17L333.50,515.35L334.00,512.03L334.50,516.56L335.00,515.51L335.50,519.63L336.00,522.66L336.50,528.75L336.75,530.03L337.00,530.15L337.50,527.57L338.00,526.44L338.50,510.04L339.00,494.87L339.50,497.76L340.00,501.08L340.50,495.95L340.75,493.64L341.00,485.94L341.50,471.26L341.75,463.28L342.00,467.21L342.50,473.66L343.00,481.15L343.50,471.93L344.00,463.11L344.50,479.42L345.00,496.10L345.50,509.04L346.00,522.31L346.50,505.94L347.00,489.82L347.50,488.98L348.00,488.60L348.50,522.10L348.75,539.14L349.00,531.85L349.50,518.09L349.75,510.94L350.00,514.19L350.50,520.32L350.75,523.58L351.00,520.52L351.50,516.62L351.75,512.86L352.00,513.95L352.50,510.75L353.00,512.12L353.50,510.52L354.00,511.91L354.50,511.62L355.00,512.52L355.50,511.77L356.00,511.73L356.50,510.59L357.00,512.43L357.50,510.82L358.00,512.84L358.50,511.11L359.00,520.51L359.50,525.62L360.00,527.91L360.50,528.60L361.00,520.49L361.50,510.91L362.00,503.02L362.50,494.62L363.00,496.76L363.50,498.45L364.00,491.05L364.50,483.38L365.00,479.39L365.50,472.89L366.00,471.68L366.50,468.45L367.00,467.09L367.50,465.36L368.00,480.97L368.25,488.37L368.50,497.40L369.00,514.68L369.50,507.93L370.00,500.94L370.50,494.60L371.00,487.88L371.50,513.48L371.75,525.88L372.00,529.28L372.50,535.37L373.00,525.84L373.50,515.90L374.00,513.98L374.50,509.78L375.00,511.52L375.50,509.36L376.00,511.24L376.25,510.04L376.50,510.74L377.00,510.03L377.50,510.20L378.00,509.50L378.50,510.18L379.00,510.26L379.50,510.90L380.00,510.77L380.50,510.98L381.00,510.45L381.50,510.63L382.00,510.10L382.50,510.15L383.00,509.92L383.50,510.83L384.00,510.26L384.50,511.21L385.00,510.05L385.50,512.01L386.00,511.55L386.50,512.08L387.00,512.13L387.50,522.95L388.00,533.45L388.50,543.10L389.00,552.38L389.25,557.34L389.50,546.24L390.00,524.55L390.25,513.36L390.50,504.40L391.00,485.95L391.50,482.33L392.00,478.41L392.50,474.62L393.00,470.43L393.50,490.96L393.75,500.88L394.00,506.26L394.50,516.43L395.00,513.90L395.50,510.92L396.00,509.23L396.50,504.68L397.00,500.19L397.50,495.38L398.00,505.83L398.50,515.86L399.00,529.22L399.50,542.19L400.00,532.94L400.50,523.41L401.00,517.97L401.50,510.10L402.00,510.71L402.50,509.13L403.00,509.65L403.50,507.96L404.00,509.92L404.50,509.99L405.00,510.64L405.50,510.22L406.00,510.94L406.50,510.06L407.00,510.89L407.50,510.21L408.00,510.97L408.50,510.75L409.00,511.22L409.50,511.03L410.00,511.74L410.50,511.12L411.00,511.96L411.50,510.71L412.00,511.59L412.50,510.22L413.00,512.99L413.50,513.45L414.00,515.62L414.50,515.95L415.00,521.40L415.50,525.94L416.00,537.81L416.25,543.43L416.50,532.75L417.00,510.87L417.50,499.88L418.00,488.41L418.50,481.05L419.00,473.41L419.50,472.96L420.00,472.11L420.50,472.48L420.75,472.42L421.00,482.14L421.50,500.95L422.00,514.42L422.25,520.87L422.50,518.63L423.00,513.45L423.25,511.05L423.50,510.64L424.00,510.65L424.25,509.45L424.50,508.08L425.00,503.05L425.25,501.08L425.50,497.18L426.00,489.90L426.50,513.81L426.75,526.07L427.00,532.13L427.50,544.83L428.00,530.30L428.50,516.05L429.00,513.29L429.50,513.19L430.00,511.86L430.50,513.93L431.00,513.12L431.25,513.79L431.50,512.93L432.00,513.27L432.50,512.30L433.00,512.43L433.50,512.41L434.00,513.07L434.50,512.98L435.00,513.80L435.50,513.05L436.00,513.15L436.50,512.30L437.00,512.53L437.50,512.29L438.00,513.11L438.50,513.02L439.00,513.83L439.50,512.84L440.00,513.41L440.50,512.34L441.00,512.92L441.50,511.92L442.00,514.60L442.50,514.72L443.00,516.20L443.50,524.95L444.00,535.08L444.50,512.47L444.75,502.82L445.00,500.69L445.50,499.74L445.75,498.28L446.00,501.85L446.50,507.47L446.75,511.50L447.00,506.74L447.50,498.57L448.00,521.74L448.25,533.61L448.50,522.55L449.00,501.12L449.50,485.03L449.75,477.36L450.00,478.75L450.50,482.07L450.75,483.42L451.00,490.48L451.50,503.63L451.75,511.73L452.00,508.11L452.50,503.80L452.75,500.70L453.00,499.93L453.50,496.17L453.75,494.86L454.00,492.55L454.50,488.63L455.00,504.95L455.25,513.64L455.50,518.23L456.00,528.19L456.50,521.83L457.00,516.22L457.50,514.21L458.00,514.41L458.50,514.24L459.00,518.78L459.25,517.78L459.50,517.75L460.00,515.11L460.50,513.81L461.00,513.27L461.50,514.55L462.00,513.30L462.50,514.77L463.00,513.59L463.50,513.76L464.00,513.07L464.50,513.26L465.00,512.80L465.50,514.02L466.00,513.36L466.50,514.75L467.00,513.70L467.50,515.93L468.00,515.14L468.50,519.12L469.00,520.37L469.50,523.55L470.00,523.73L470.50,516.44L471.00,505.49L471.50,502.60L472.00,497.89L472.50,503.76L473.00,506.76L473.50,501.41L474.00,493.32L474.50,503.82L475.00,509.95L475.50,510.28L476.00,507.95L476.50,512.85L477.00,514.50L477.50,509.34L478.00,500.95L478.50,496.06L479.00,490.88L479.50,503.59L480.00,515.93L480.50,524.20L481.00,532.10L481.50,524.20L482.00,515.90L482.50,514.98L483.00,511.33L483.50,513.97L484.00,511.33L484.50,513.53L485.00,513.23L485.50,513.45L486.00,512.73L486.50,512.66L487.00,511.95L487.50,512.75L488.00,512.60L488.50,513.37L489.00,513.15L489.50,513.49L490.00,512.84L490.50,512.87L491.00,512.24L491.50,513.14L492.00,512.92L492.50,513.75L493.00,512.97L493.50,514.66L494.00,512.90L494.50,514.15L495.00,513.43L495.50,519.85L496.00,525.86L496.50,533.56L497.00,540.90L497.50,514.46L497.75,500.85L498.00,500.65L498.50,499.69L499.00,505.52L499.50,510.85L500.00,518.60L500.50,525.95L501.00,509.48L501.25,500.91L501.50,491.14L502.00,470.89L502.50,479.88L503.00,488.44L503.50,511.96L503.75,523.43L504.00,521.71L504.50,517.74L504.75,516.13L505.00,512.19L505.50,505.07L505.75,500.59L506.00,498.22L506.50,490.85L506.75,488.27L507.00,496.17L507.50,514.37L507.75,521.47L508.00,519.71L508.50,513.23L508.75,511.70L509.00,508.85L509.50,506.12L509.75,503.18L510.00,507.74L510.50,511.82L510.75,517.14L511.00,514.80L511.50,515.30L512.00,512.54L512.50,513.48L513.00,511.10L513.50,511.59L514.00,509.75L514.50,509.89L515.00,508.48L515.50,510.29L516.00,510.44L516.50,511.90L517.00,510.85L517.50,511.30L518.00,510.55L518.50,511.11L519.00,510.44L519.50,511.32L520.00,510.36L520.50,512.04L521.00,512.37L521.50,516.10L521.75,515.50L522.00,519.64L522.50,523.31L522.75,526.44L523.00,527.88L523.50,533.35L524.00,518.15L524.25,511.35L524.50,505.70L525.00,496.14L525.50,496.77L525.75,497.38L526.00,500.54L526.50,507.95L526.75,510.58L527.00,502.87L527.50,485.53L528.00,511.31L528.25,523.04L528.50,520.83L529.00,513.93L529.25,511.41L529.50,508.05L530.00,503.67L530.25,500.74L530.50,501.93L531.00,499.70L531.25,500.57L531.50,499.73L532.00,501.77L532.50,510.64L532.75,516.58L533.00,519.54L533.50,529.52L533.75,533.07L534.00,530.33L534.50,521.73L534.75,518.83L535.00,516.84L535.50,516.14L536.00,512.02L536.50,515.53L537.00,514.34L537.50,516.37L538.00,514.00L538.50,513.77L539.00,511.77L539.50,513.36L540.00,513.03L540.50,514.65L541.00,512.68L541.50,512.67L542.00,511.06L542.50,512.35L543.00,512.07L543.50,514.06L544.00,512.64L544.50,513.85L545.00,511.58L545.50,513.82L546.00,514.98L546.50,516.58L547.00,527.37L547.50,538.59L548.00,553.44L548.25,561.12L548.50,566.37L549.00,577.38L549.50,513.43L550.00,480.11L550.50,478.69L550.75,478.36L551.00,479.05L551.50,481.08L552.00,492.78L552.50,485.89L552.75,481.72L553.00,482.83L553.50,482.59L554.00,495.63L554.50,506.03L554.75,514.41L555.00,510.96L555.50,507.10L555.75,503.70L556.00,496.88L556.50,482.92L557.00,482.39L557.25,481.92L557.50,495.57L557.75,508.89L558.00,533.11L558.50,531.43L558.75,530.86L559.00,526.84L559.50,519.37L559.75,515.36L560.00,515.95L560.50,514.12L561.00,514.81L561.50,512.61L561.75,514.89"/></g>
<text x="80.00" y="597.30" text-anchor="middle">0</text>
<text x="170.50" y="597.30" text-anchor="middle" textLength="27.4">1000</text>
<text x="261.00" y="597.30" text-anchor="middle" textLength="27.4">2000</text>
<text x="351.50" y="597.30" text-anchor="middle" textLength="27.4">3000</text>
<text x="442.00" y="597.30" text-anchor="middle" textLength="27.4">4000</text>
<text x="532.50" y="597.30" text-anchor="middle" textLength="27.4">5000</text>
<text x="78.4" y="514.25" text-anchor="end">0</text>
<text x="78.4" y="570.60" text-anchor="end">−5</text>
</g>
<g id="sp4">
<path class="g" d="M170.50,635.5V763.0"/>
<path class="g" d="M261.00,635.5V763.0"/>
<path class="g" d="M351.50,635.5V763.0"/>
<path class="g" d="M442.00,635.5V763.0"/>
<path class="g" d="M532.50,635.5V763.0"/>
<path class="g" d="M80.0,658.49H562.0"/>
<path class="g" d="M80.0,743.63H562.0"/>
<path class="z" d="M80.0,635.5V763.0"/>
<path class="z" d="M80.0,701.20H562.0"/>
<clipPath id="c4"><rect x="80.0" y="635.5" width="482.0" height="127.5"/></clipPath>
<g clip-path="url(#c4)"><path class="l" stroke="#d62728" d="M80.00,724.50L82.50,726.00L85.00,725.00L87.00,724.50L88.75,725.00L90.50,727.75L92.50,730.25L95.00,731.50L97.50,729.00L100.00,728.00L102.50,727.25L105.00,728.50L107.50,729.75L110.00,729.00L112.00,729.50L113.00,728.50L114.50,730.75L116.25,728.50L118.00,727.75L120.00,728.00L122.00,727.75L125.00,724.00L127.50,720.75L130.00,721.25L133.75,722.50L137.50,722.00L141.25,722.25L145.00,722.00L148.75,720.75L152.50,721.50L156.25,719.50L160.00,718.75L163.75,719.25L167.50,721.50L170.50,723.00L173.75,722.25L176.25,722.00L178.75,720.50L182.00,719.00L185.00,719.50L187.50,720.50L191.25,719.00L195.00,717.25L198.75,718.00L202.50,717.75L206.25,717.50L210.00,717.25L213.75,717.50L217.50,717.75L221.25,716.75L225.00,715.75L228.75,715.75L232.50,715.50L236.25,715.25L240.00,714.75L243.75,714.25L245.00,714.25L250.00,713.25L255.00,712.50L260.00,711.75L263.75,711.25L265.00,709.50L265.75,714.00L266.75,741.50L267.75,755.25L268.75,729.00L269.50,694.00L270.25,684.50L271.25,683.50L272.50,686.00L273.50,691.50L274.50,702.75L275.50,705.75L278.75,705.50L282.50,705.00L286.25,704.75L287.50,702.75L289.00,702.00L290.00,709.00L291.25,729.00L292.75,751.00L293.75,729.00L294.75,694.00L295.75,681.00L297.00,679.75L298.25,680.50L299.25,691.50L300.25,703.50L301.25,704.75L305.00,704.50L308.75,704.50L312.50,704.75L313.50,706.00L314.50,701.50L316.00,689.50L316.75,704.00L317.50,734.00L318.50,756.00L319.50,734.00L320.25,694.00L321.00,681.00L322.00,679.75L323.00,681.50L324.00,689.00L325.00,699.00L326.00,704.00L328.00,704.50L329.50,706.50L331.50,705.25L333.50,703.50L335.00,704.50L336.50,708.50L338.00,711.00L339.00,701.50L340.00,686.50L341.00,674.00L341.75,666.50L342.25,652.75L343.00,669.00L344.00,684.00L345.00,676.50L346.00,675.00L347.00,681.50L348.00,691.50L349.00,697.00L350.50,699.00L352.00,701.00L354.00,700.00L356.25,699.75L358.75,700.50L360.50,701.50L361.50,694.00L362.50,686.50L363.25,682.25L364.25,689.00L365.50,698.50L366.50,689.00L367.50,681.50L368.50,674.00L369.50,672.25L370.50,679.00L371.50,691.50L372.50,701.50L373.50,703.25L375.00,702.25L377.00,701.00L380.00,700.75L383.75,700.50L387.00,700.25L388.50,704.00L390.00,711.00L391.00,701.50L392.00,686.50L393.00,674.00L394.00,666.50L395.00,665.25L396.50,667.75L398.00,676.50L399.50,690.25L401.00,694.00L403.75,694.00L410.00,694.00L413.00,694.00L414.50,699.00L416.00,705.25L417.25,710.25L418.25,704.00L419.50,689.00L420.75,674.00L422.00,664.00L423.25,662.50L424.50,664.00L425.75,674.00L427.00,685.25L428.00,690.00L431.25,690.75L435.00,691.50L438.75,691.75L442.50,692.00L443.50,696.50L444.50,706.50L445.50,714.00L446.50,714.75L447.50,712.75L448.50,701.50L449.50,679.00L450.50,661.50L451.50,656.50L452.50,655.50L453.75,657.00L455.00,666.50L456.25,676.50L457.50,682.75L459.50,686.50L462.50,687.00L465.50,687.00L468.50,687.00L469.50,694.00L470.50,706.50L471.50,714.00L472.50,710.25L473.50,694.00L474.50,669.00L475.50,655.25L476.50,652.25L477.75,654.00L479.00,661.50L480.00,674.00L481.25,682.75L483.00,684.25L486.25,683.75L490.00,683.25L493.50,683.00L495.00,686.50L496.25,694.00L497.50,704.00L498.75,709.00L500.00,706.50L501.25,689.00L502.25,666.50L503.25,650.25L504.25,646.50L505.25,647.75L506.25,654.00L507.25,666.50L508.25,675.25L510.00,679.00L512.50,677.25L515.50,676.75L518.75,676.75L521.50,677.25L522.50,681.50L523.50,691.50L524.50,700.25L525.25,702.00L526.25,694.00L527.25,679.00L528.25,664.00L529.25,657.00L530.25,656.50L531.50,660.25L532.75,667.75L534.25,672.75L536.25,674.50L538.75,675.50L542.50,675.75L546.25,675.50L549.50,674.75L551.50,673.50L552.50,664.00L553.50,649.00L554.50,642.00L555.50,641.50L556.50,644.00L557.50,656.50L558.50,665.25L560.00,668.25L561.50,669.00L562.00,669.50L562.00,701.00"/></g>
<text x="80.00" y="775.80" text-anchor="middle">0</text>
<text x="170.50" y="775.80" text-anchor="middle" textLength="27.4">1000</text>
<text x="261.00" y="775.80" text-anchor="middle" textLength="27.4">2000</text>
<text x="351.50" y="775.80" text-anchor="middle" textLength="27.4">3000</text>
<text x="442.00" y="775.80" text-anchor="middle" textLength="27.4">4000</text>
<text x="532.50" y="775.80" text-anchor="middle" textLength="27.4">5000</text>
<text x="78.4" y="662.69" text-anchor="end">2</text>
<text x="78.4" y="705.26" text-anchor="end">0</text>
<text x="78.4" y="747.83" text-anchor="end">−2</text>
</g>
<g id="sp5">
<path class="g" d="M170.50,814.0V941.5"/>
<path class="g" d="M261.00,814.0V941.5"/>
<path class="g" d="M351.50,814.0V941.5"/>
<path class="g" d="M442.00,814.0V941.5"/>
<path class="g" d="M532.50,814.0V941.5"/>
<path class="g" d="M80.0,825.60H562.0"/>
<path class="g" d="M80.0,889.40H562.0"/>
<path class="g" d="M80.0,921.30H562.0"/>
<path class="z" d="M80.0,814.0V941.5"/>
<path class="z" d="M80.0,857.50H562.0"/>
<clipPath id="c5"><rect x="80.0" y="814.0" width="482.0" height="127.5"/></clipPath>
<g clip-path="url(#c5)"><path class="l" stroke="#9467bd" d="M80.00,888.00L82.00,886.00L83.75,884.25L85.50,878.50L87.50,879.00L89.50,880.50L91.00,883.50L92.50,881.00L94.00,882.25L95.50,880.00L97.00,881.00L98.50,877.50L100.00,876.00L101.50,876.50L103.00,873.50L104.50,870.50L106.25,871.00L108.00,870.00L110.00,869.25L112.00,868.00L113.25,870.00L114.50,873.00L116.00,868.00L117.50,866.75L119.00,867.50L120.75,865.50L122.00,861.75L123.25,854.25L124.50,848.00L125.50,846.25L127.50,847.25L130.00,846.75L132.50,846.25L135.00,846.00L137.00,847.25L138.75,846.00L140.00,850.00L141.50,845.50L143.00,847.50L144.50,844.25L146.00,842.50L148.00,843.50L150.00,844.25L152.00,841.75L153.50,845.50L155.00,843.00L156.50,847.50L158.00,844.25L160.00,845.50L162.00,845.00L164.00,846.00L165.50,846.75L167.00,844.25L168.50,847.50L170.00,845.50L171.50,847.50L173.00,845.00L174.50,849.00L176.00,843.00L178.00,844.25L180.00,842.50L181.50,842.25L183.00,846.00L184.50,845.00L186.50,846.25L188.75,844.75L191.25,845.50L193.75,845.00L196.25,845.50L198.75,846.00L201.25,845.50L203.75,845.00L206.25,844.75L208.75,844.50L210.50,845.50L212.00,843.75L213.50,847.50L215.50,846.75L218.00,847.00L220.50,847.50L223.00,848.50L225.00,847.50L227.50,846.00L230.00,845.50L232.50,846.75L234.50,847.50L236.50,846.25L238.75,845.00L241.25,845.50L243.75,845.00L245.00,844.75L250.00,844.50L255.00,844.50L260.00,844.75L262.50,845.50L263.75,849.25L264.75,858.00L265.75,869.25L266.75,855.50L267.75,851.75L269.00,875.00L270.00,860.50L271.00,847.50L272.00,846.00L273.25,845.00L274.50,855.50L275.50,848.00L276.75,845.50L278.00,847.50L280.00,846.25L282.50,845.50L285.00,845.00L286.50,844.25L287.50,840.50L288.50,837.50L289.50,840.50L290.50,845.00L291.50,836.75L292.50,835.00L293.50,845.50L294.75,865.00L295.75,853.00L296.75,847.50L298.00,850.50L299.25,855.50L300.50,849.25L302.00,846.75L303.50,849.25L305.00,850.50L306.50,847.50L308.75,846.25L311.25,845.50L312.50,845.00L313.50,863.00L314.50,882.50L316.00,883.75L317.00,858.00L318.00,833.00L318.50,821.00L319.50,820.50L320.25,845.50L321.00,867.50L322.00,866.00L323.25,861.75L324.50,855.50L325.75,851.75L327.50,847.50L329.00,846.00L330.50,843.00L332.00,839.75L333.50,840.50L335.00,841.25L336.00,848.00L337.00,865.50L338.00,883.00L339.00,898.00L340.25,905.50L341.25,883.00L342.25,863.00L343.25,856.75L344.00,873.00L345.00,887.50L346.00,878.00L347.00,873.50L348.00,863.00L349.00,855.50L350.50,851.75L352.00,848.00L353.75,846.25L355.50,847.00L357.50,846.25L359.00,853.00L360.00,868.00L361.00,883.00L362.25,892.50L363.25,883.00L364.25,858.00L365.25,845.50L366.25,844.75L367.00,858.00L368.00,883.00L369.00,870.50L370.00,869.25L371.00,875.50L372.00,882.50L373.00,875.50L374.25,865.50L375.50,857.50L377.50,856.25L380.00,855.00L382.50,854.25L385.00,854.00L387.00,853.75L388.50,856.75L389.50,854.25L390.50,851.00L391.25,865.50L392.25,890.50L393.25,909.75L394.25,900.50L395.25,888.00L396.50,881.75L397.75,880.50L399.00,868.00L400.25,855.50L401.50,848.50L403.00,850.00L405.00,849.25L408.75,848.50L411.25,848.00L413.75,847.50L415.00,851.75L416.25,857.50L417.50,853.00L418.50,858.00L419.50,873.00L420.75,893.00L421.75,880.50L423.00,875.50L424.25,873.50L425.75,870.50L427.00,863.00L428.25,855.50L429.50,851.00L431.25,850.00L433.75,850.50L436.25,850.25L438.75,849.75L441.25,850.50L443.00,851.00L443.75,856.75L444.75,851.75L445.75,852.50L446.75,856.75L448.00,861.75L449.00,883.00L449.75,908.00L450.25,923.00L451.25,908.00L452.25,896.75L453.75,894.25L455.00,880.50L456.25,868.00L457.50,859.25L459.00,854.75L460.50,855.00L462.50,854.25L464.50,854.75L466.50,854.00L468.00,855.00L469.00,861.75L470.00,862.50L471.00,854.25L472.00,852.50L472.75,865.50L473.50,883.00L474.50,911.75L475.50,893.00L476.50,880.50L477.50,879.25L478.50,873.00L479.50,875.50L480.50,866.75L481.75,859.25L483.75,859.25L485.75,859.00L487.50,857.25L489.50,857.75L491.50,858.00L493.75,857.50L495.50,860.50L497.50,864.25L499.25,870.00L500.50,878.00L501.50,898.00L502.25,918.00L502.75,933.75L503.50,908.00L504.50,891.75L506.00,889.25L507.00,886.75L508.00,880.50L509.25,873.00L510.50,863.00L511.75,854.25L513.25,854.75L515.00,853.50L517.00,853.00L519.00,852.50L520.50,853.00L521.75,858.00L522.75,865.00L523.75,860.50L524.75,865.50L525.75,866.75L526.75,883.00L527.75,893.00L528.75,880.50L530.00,876.75L531.00,874.25L532.00,858.00L533.25,848.00L535.00,846.00L536.75,844.75L538.75,846.00L540.75,845.50L542.75,846.25L545.00,845.75L547.00,846.25L548.00,853.00L549.00,870.50L549.75,877.50L550.75,874.25L551.75,876.00L552.50,895.50L553.25,911.75L554.25,895.50L555.25,889.25L556.50,883.00L557.75,870.50L559.00,858.00L560.00,853.75L561.25,853.00L562.00,856.75"/></g>
<text x="80.00" y="954.30" text-anchor="middle">0</text>
<text x="170.50" y="954.30" text-anchor="middle" textLength="27.4">1000</text>
<text x="261.00" y="954.30" text-anchor="middle" textLength="27.4">2000</text>
<text x="351.50" y="954.30" text-anchor="middle" textLength="27.4">3000</text>
<text x="442.00" y="954.30" text-anchor="middle" textLength="27.4">4000</text>
<text x="532.50" y="954.30" text-anchor="middle" textLength="27.4">5000</text>
<text x="78.4" y="829.80" text-anchor="end">2</text>
<text x="78.4" y="861.70" text-anchor="end">0</text>
<text x="78.4" y="893.60" text-anchor="end">−2</text>
<text x="78.4" y="925.50" text-anchor="end">−4</text>
</g>
<g id="sp6">
<path class="g" d="M170.50,992.5V1120.0"/>
<path class="g" d="M261.00,992.5V1120.0"/>
<path class="g" d="M351.50,992.5V1120.0"/>
<path class="g" d="M442.00,992.5V1120.0"/>
<path class="g" d="M532.50,992.5V1120.0"/>
<path class="g" d="M80.0,1008.50H562.0"/>
<path class="g" d="M80.0,1035.00H562.0"/>
<path class="g" d="M80.0,1061.50H562.0"/>
<path class="g" d="M80.0,1114.50H562.0"/>
<path class="z" d="M80.0,992.5V1120.0"/>
<path class="z" d="M80.0,1088.00H562.0"/>
<clipPath id="c6"><rect x="80.0" y="992.5" width="482.0" height="127.5"/></clipPath>
<g clip-path="url(#c6)"><path class="l" stroke="#8c564b" d="M80.00,1113.50L82.50,1111.75L84.50,1110.50L86.25,1111.00L88.75,1109.25L91.25,1106.50L93.75,1104.50L96.25,1103.25L98.00,1103.00L100.00,1104.25L102.50,1104.00L105.00,1102.75L107.50,1102.00L110.00,1101.50L112.50,1101.00L115.00,1100.25L117.00,1101.50L119.00,1101.00L121.00,1100.50L123.00,1103.00L125.00,1105.50L126.50,1106.50L130.00,1106.50L135.00,1106.50L140.00,1106.00L145.00,1105.50L150.00,1105.00L153.00,1104.50L154.50,1104.50L156.50,1106.00L159.00,1107.25L161.50,1108.00L164.50,1107.25L167.50,1106.25L170.00,1105.25L172.50,1106.00L175.00,1105.75L177.50,1105.50L180.00,1105.00L182.50,1105.75L186.25,1106.50L190.00,1106.50L195.00,1106.50L200.00,1107.00L205.00,1106.50L208.75,1106.00L211.25,1105.50L213.75,1106.50L218.75,1106.50L225.00,1107.00L232.50,1107.00L240.00,1107.00L247.50,1107.00L255.00,1107.00L261.25,1107.00L263.00,1106.00L264.00,1091.00L265.00,1061.00L266.00,1036.00L267.00,1018.50L267.75,1014.75L268.50,1018.50L269.50,1036.00L270.50,1048.00L272.00,1049.75L273.00,1051.50L274.00,1061.00L275.00,1086.00L276.00,1099.75L277.50,1102.50L280.00,1103.00L283.00,1103.25L286.00,1103.00L287.00,1093.50L288.00,1081.00L289.00,1061.00L290.00,1041.00L291.00,1023.50L292.00,1013.50L293.00,1008.00L293.75,1007.25L294.50,1016.00L295.50,1038.50L297.00,1039.00L298.00,1041.00L299.00,1051.00L300.00,1071.00L301.00,1093.50L302.50,1097.25L304.50,1098.25L307.50,1098.50L310.50,1098.25L312.50,1097.50L313.50,1086.00L314.50,1068.50L315.50,1048.50L316.50,1028.50L317.50,1013.50L318.50,1005.50L319.50,1004.75L320.25,1011.00L321.25,1031.00L322.25,1046.00L323.50,1047.50L324.50,1058.50L325.50,1073.50L326.50,1089.75L328.00,1092.25L329.50,1090.50L331.50,1091.00L333.50,1091.75L335.50,1092.00L337.00,1088.50L338.00,1076.00L339.00,1056.00L340.00,1036.00L341.00,1016.00L342.00,1004.75L342.75,1002.25L343.50,1003.50L344.50,1018.50L345.50,1041.00L346.50,1051.50L347.50,1053.50L348.50,1071.00L349.50,1091.00L350.50,1096.50L352.50,1097.50L355.50,1098.00L358.50,1098.25L359.50,1096.00L360.50,1083.50L361.50,1061.00L362.50,1038.50L363.50,1018.50L364.50,1003.50L365.50,999.00L366.50,998.50L367.50,1006.00L368.50,1031.00L369.50,1048.50L370.50,1054.75L371.50,1073.50L372.50,1096.00L373.50,1101.00L374.50,1100.00L377.50,1100.00L381.25,1100.00L385.00,1100.00L387.00,1099.00L388.00,1086.00L389.00,1061.00L390.00,1036.00L391.00,1017.25L391.75,1014.00L392.50,1018.50L393.50,1041.00L394.50,1059.00L396.00,1060.50L397.50,1064.75L398.50,1081.00L399.50,1097.25L400.50,1100.50L401.50,1102.00L405.00,1102.00L410.00,1102.00L413.50,1101.75L415.00,1096.00L416.00,1081.00L417.00,1051.00L418.00,1023.50L419.00,1008.50L420.00,1008.00L420.75,1021.00L421.75,1041.00L422.75,1054.00L424.25,1056.00L425.50,1058.50L426.50,1081.00L427.50,1094.75L429.50,1097.25L432.50,1096.75L436.25,1096.00L440.00,1095.50L443.00,1095.25L444.00,1086.00L445.00,1068.50L446.00,1054.00L447.00,1053.00L448.00,1048.50L449.00,1042.25L449.75,1044.75L450.50,1056.00L451.50,1060.50L453.00,1059.75L454.25,1061.00L455.50,1076.00L456.75,1086.00L458.50,1090.50L460.50,1093.00L463.00,1094.00L465.50,1094.75L468.00,1094.75L469.00,1091.00L470.00,1073.50L471.00,1058.50L472.00,1048.50L473.00,1043.00L473.75,1040.50L474.50,1056.00L475.50,1073.50L476.50,1077.25L478.00,1078.00L479.50,1081.00L481.00,1088.50L482.50,1093.50L485.00,1095.50L488.00,1096.50L491.00,1096.50L494.00,1095.50L495.50,1092.25L496.50,1083.50L497.50,1071.00L498.50,1061.00L499.50,1057.25L500.50,1052.25L501.50,1039.75L502.25,1048.50L503.25,1068.50L504.25,1079.75L505.50,1081.00L506.50,1091.00L507.50,1100.50L508.50,1103.00L509.50,1101.50L511.50,1102.50L514.50,1102.75L517.50,1102.50L521.25,1102.00L522.50,1096.00L523.50,1076.00L524.50,1056.00L525.50,1047.25L526.50,1044.75L527.25,1044.00L528.00,1066.00L529.00,1086.00L530.50,1089.00L532.00,1090.00L533.50,1091.00L535.00,1096.00L537.00,1098.00L540.00,1098.00L543.75,1097.50L547.50,1097.00L548.50,1086.00L549.50,1048.50L550.25,1021.00L551.00,1018.00L552.00,1021.00L553.00,1041.00L554.00,1061.00L555.00,1063.50L556.50,1064.75L557.50,1081.00L558.50,1096.00L560.00,1099.00L561.50,1099.75L562.00,1093.50"/></g>
<text x="80.00" y="1132.80" text-anchor="middle">0</text>
<text x="170.50" y="1132.80" text-anchor="middle" textLength="27.4">1000</text>
<text x="261.00" y="1132.80" text-anchor="middle" textLength="27.4">2000</text>
<text x="351.50" y="1132.80" text-anchor="middle" textLength="27.4">3000</text>
<text x="442.00" y="1132.80" text-anchor="middle" textLength="27.4">4000</text>
<text x="532.50" y="1132.80" text-anchor="middle" textLength="27.4">5000</text>
<text x="78.4" y="1012.70" text-anchor="end">3</text>
<text x="78.4" y="1039.20" text-anchor="end">2</text>
<text x="78.4" y="1065.70" text-anchor="end">1</text>
<text x="78.4" y="1092.20" text-anchor="end">0</text>
<text x="78.4" y="1118.70" text-anchor="end">−1</text>
</g>
<g id="legend">
<path class="l" stroke="#1f77b4" d="M576.6,114.5H606.6"/>
<text x="611.6" y="118.70" textLength="41.6">Acc in x</text>
<path class="l" stroke="#ff7f0e" d="M576.6,133.5H606.6"/>
<text x="611.6" y="137.70" textLength="41.6">Acc in y</text>
<path class="l" stroke="#2ca02c" d="M576.6,152.5H606.6"/>
<text x="611.6" y="156.70" textLength="41">Acc in z</text>
<path class="l" stroke="#d62728" d="M576.6,171.5H606.6"/>
<text x="611.6" y="175.70" textLength="63.6">yaw = rot. z</text>
<path class="l" stroke="#9467bd" d="M576.6,190.5H606.6"/>
<text x="611.6" y="194.70" textLength="69.6">pitch = rot. y</text>
<path class="l" stroke="#8c564b" d="M576.6,209.5H606.6"/>
<text x="611.6" y="213.70" textLength="60.2">roll = rot. x</text>
</g>
</svg></body></html>
